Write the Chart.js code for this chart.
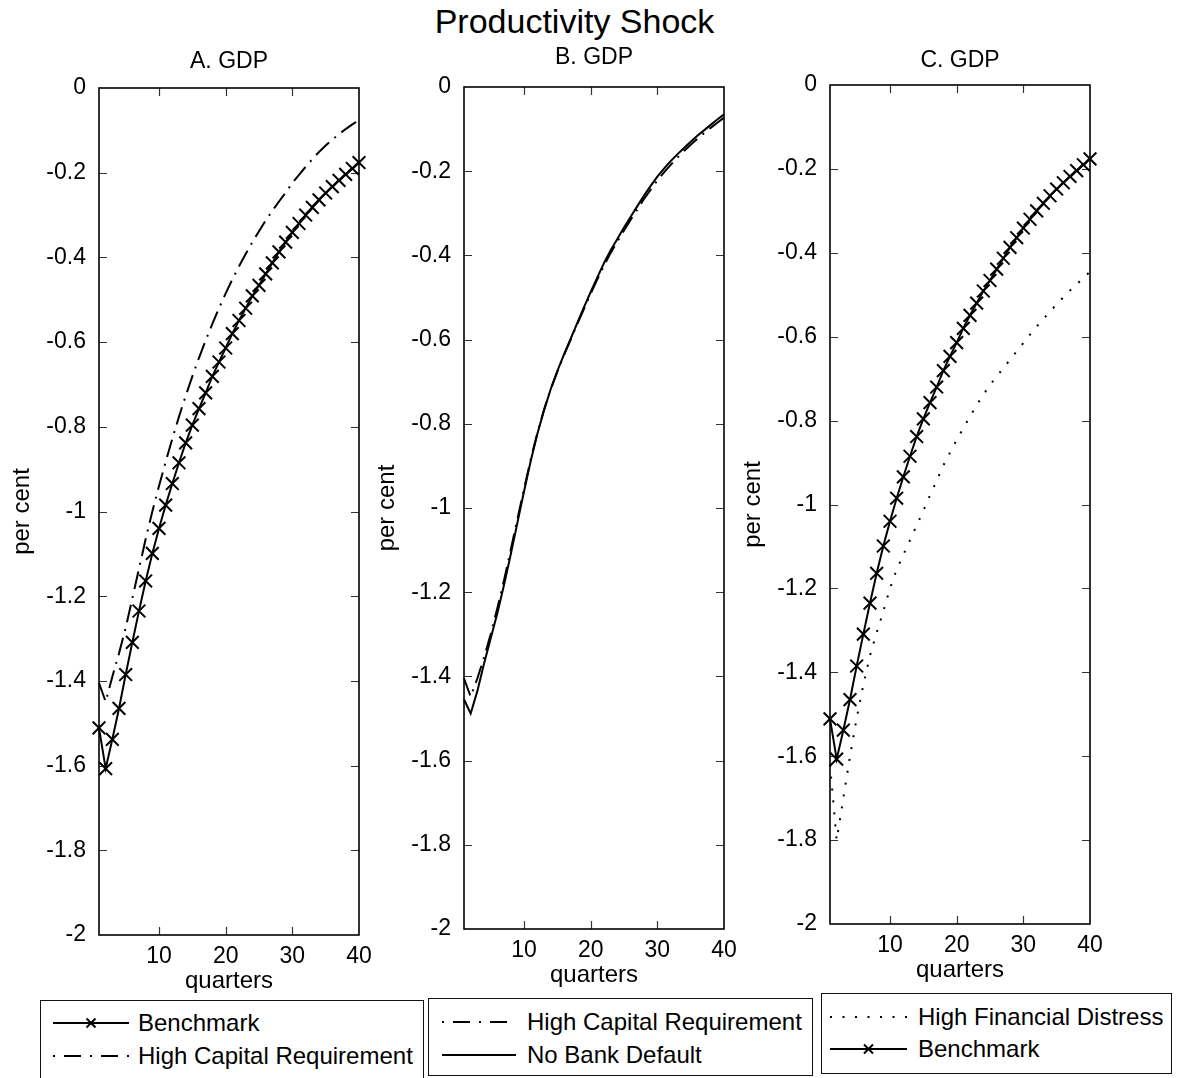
<!DOCTYPE html>
<html>
<head>
<meta charset="utf-8">
<script src="https://cdn.jsdelivr.net/npm/chart.js@4.4.1/dist/chart.umd.min.js"></script>
<style>
html,body{margin:0;padding:0;background:#fff;}
body{width:1186px;height:1078px;overflow:hidden;position:relative;font-family:"Liberation Sans",Arial,Helvetica,sans-serif;color:#000;}
canvas{position:absolute;}
#mainTitle{position:absolute;left:0;top:1px;width:1149px;text-align:center;font-size:34px;line-height:40px;white-space:nowrap;}
.legend{position:absolute;border:1.5px solid #111;box-sizing:border-box;background:transparent;}
.legend .txt{position:absolute;font-size:24px;line-height:30px;white-space:nowrap;}
.legend svg{position:absolute;overflow:visible;}
</style>
</head>
<body>
<div id="mainTitle">Productivity Shock</div>
<canvas id="cA"></canvas>
<canvas id="cB"></canvas>
<canvas id="cC"></canvas>
<div id="legends"></div>
<script>
// ---------------- data ----------------
const quarters = [1,2,3,4,5,6,7,8,9,10,11,12,13,14,15,16,17,18,19,20,21,22,23,24,25,26,27,28,29,30,31,32,33,34,35,36,37,38,39,40];

const xTicks = [10, 20, 30, 40];
const xTickLabels = ["10", "20", "30", "40"];
const yTicks = [0, -0.2, -0.4, -0.6, -0.8, -1, -1.2, -1.4, -1.6, -1.8, -2];
const yTickLabels = ["0", "-0.2", "-0.4", "-0.6", "-0.8", "-1", "-1.2", "-1.4", "-1.6", "-1.8", "-2"];

const panelTitles = ["A. GDP", "B. GDP", "C. GDP"];
const xAxisTitle = "quarters";
const yAxisTitle = "per cent";

const nameBenchmark = "Benchmark";
const nameHighCap = "High Capital Requirement";
const nameNoDefault = "No Bank Default";
const nameDistress = "High Financial Distress";

// Benchmark (panels A and C)
const benchmark = [-1.511,-1.607,-1.538,-1.465,-1.385,-1.309,-1.235,-1.164,-1.099,-1.040,
                   -0.985,-0.934,-0.885,-0.838,-0.796,-0.757,-0.720,-0.681,-0.647,-0.614,
                   -0.580,-0.549,-0.520,-0.491,-0.466,-0.439,-0.413,-0.387,-0.364,-0.341,
                   -0.320,-0.300,-0.282,-0.264,-0.248,-0.233,-0.218,-0.204,-0.190,-0.176];
// High capital requirement (panel A)
const highCapA = [-1.405,-1.449,-1.390,-1.335,-1.275,-1.205,-1.135,-1.065,-1.000,-0.940,
                  -0.883,-0.828,-0.776,-0.727,-0.681,-0.637,-0.596,-0.557,-0.520,-0.485,
                  -0.452,-0.421,-0.392,-0.364,-0.338,-0.313,-0.290,-0.268,-0.247,-0.224,
                  -0.205,-0.186,-0.168,-0.151,-0.136,-0.122,-0.109,-0.097,-0.086,-0.076];
// High capital requirement (panel B)
const highCapB = [-1.405,-1.448,-1.405,-1.355,-1.300,-1.238,-1.172,-1.100,-1.027,-0.955,
                  -0.885,-0.822,-0.767,-0.718,-0.676,-0.637,-0.600,-0.563,-0.527,-0.491,
                  -0.457,-0.424,-0.394,-0.367,-0.341,-0.315,-0.291,-0.266,-0.244,-0.222,
                  -0.203,-0.185,-0.168,-0.152,-0.137,-0.123,-0.110,-0.097,-0.085,-0.073];
// No bank default (panel B)
const noDefaultB = [-1.455,-1.488,-1.435,-1.370,-1.310,-1.250,-1.183,-1.111,-1.036,-0.961,
                    -0.889,-0.824,-0.768,-0.718,-0.675,-0.635,-0.598,-0.560,-0.523,-0.487,
                    -0.452,-0.418,-0.388,-0.361,-0.334,-0.308,-0.283,-0.258,-0.235,-0.213,
                    -0.194,-0.176,-0.160,-0.145,-0.130,-0.116,-0.103,-0.090,-0.077,-0.065];
// High financial distress (panel C)
const distressC = [-1.620,-1.800,-1.700,-1.600,-1.510,-1.430,-1.360,-1.305,-1.255,-1.200,
                   -1.155,-1.120,-1.085,-1.050,-1.015,-0.978,-0.943,-0.907,-0.876,-0.846,
                   -0.818,-0.790,-0.763,-0.738,-0.715,-0.695,-0.675,-0.655,-0.635,-0.615,
                   -0.595,-0.576,-0.558,-0.540,-0.523,-0.506,-0.490,-0.475,-0.460,-0.445];

// ---------------- styles ----------------
const FONT = '"Liberation Sans", Arial, Helvetica, sans-serif';
const styles = {
  bench:    {borderDash: [], pointStyle: 'crossRot', pointRadius: 9, legendMarker: true},
  highCap:  {borderDash: [18, 7, 2, 7], pointRadius: 0},
  solid:    {borderDash: [], pointRadius: 0},
  dotted:   {borderDash: [2, 10], pointRadius: 0}
};

function series(label, values, style) {
  return {
    label: label,
    data: quarters.map((q, i) => ({x: q, y: values[i]})),
    borderColor: '#000',
    backgroundColor: '#000',
    borderWidth: 2,
    borderDash: style.borderDash,
    pointStyle: style.pointStyle || 'circle',
    pointRadius: style.pointRadius,
    pointHoverRadius: style.pointRadius,
    pointBorderColor: '#000',
    pointBorderWidth: 2,
    tension: 0,
    fill: false,
    clip: false
  };
}

// ---------------- layout ----------------
const panels = [
  {canvas: 'cA', L: 99,  R: 359,  T: 88, B: 935, titleY: 61.7,
   datasets: [series(nameHighCap, highCapA, styles.highCap), series(nameBenchmark, benchmark, styles.bench)]},
  {canvas: 'cB', L: 464, R: 724,  T: 87, B: 929, titleY: 57.5,
   datasets: [series(nameHighCap, highCapB, styles.highCap), series(nameNoDefault, noDefaultB, styles.solid)]},
  {canvas: 'cC', L: 830, R: 1090, T: 85, B: 924, titleY: 60.3,
   datasets: [series(nameDistress, distressC, styles.dotted), series(nameBenchmark, benchmark, styles.bench)]}
];
const CANVAS_TOP = 30, YAXIS_W = 95, XAXIS_H = 65, PAD_RIGHT = 30;
const TITLE_SIZE = 23, TITLE_LH = TITLE_SIZE * 1.2;

const framePlugin = {
  id: 'frame',
  beforeDatasetsDraw(chart) {
    const {ctx, chartArea: a, scales: {x, y}} = chart;
    ctx.save();
    ctx.strokeStyle = '#333';
    ctx.lineWidth = 1.2;
    ctx.beginPath();
    const tl = 8;
    yTicks.forEach(v => {
      if (v === 0 || v === -2) return;
      const py = Math.round(y.getPixelForValue(v)) + 0.5;
      ctx.moveTo(a.left, py); ctx.lineTo(a.left + tl, py);
      ctx.moveTo(a.right, py); ctx.lineTo(a.right - tl, py);
    });
    xTicks.forEach(v => {
      if (v === 40) return;
      const px = Math.round(x.getPixelForValue(v)) + 0.5;
      ctx.moveTo(px, a.bottom); ctx.lineTo(px, a.bottom - tl);
      ctx.moveTo(px, a.top); ctx.lineTo(px, a.top + tl);
    });
    ctx.stroke();
    ctx.strokeStyle = '#000';
    ctx.lineWidth = 1.6;
    ctx.strokeRect(a.left, a.top, a.right - a.left, a.bottom - a.top);
    ctx.restore();
  }
};

panels.forEach((p, idx) => {
  const cv = document.getElementById(p.canvas);
  const left = p.L - YAXIS_W;
  const w = (p.R - p.L) + YAXIS_W + PAD_RIGHT;
  const h = p.B + XAXIS_H - CANVAS_TOP;
  cv.width = w; cv.height = h;
  cv.style.left = left + 'px';
  cv.style.top = CANVAS_TOP + 'px';
  cv.style.width = w + 'px';
  cv.style.height = h + 'px';
  const padTop = p.titleY - CANVAS_TOP - TITLE_LH / 2;
  const padBottom = p.T - CANVAS_TOP - padTop - TITLE_LH;
  new Chart(cv, {
    type: 'line',
    data: {datasets: p.datasets},
    options: {
      responsive: false,
      animation: false,
      devicePixelRatio: 1,
      events: [],
      layout: {padding: {left: 0, right: PAD_RIGHT, top: 0, bottom: 0}},
      plugins: {
        legend: {display: false},
        tooltip: {enabled: false},
        title: {
          display: true, text: panelTitles[idx], fullSize: false, color: '#000',
          font: {family: FONT, size: TITLE_SIZE, weight: 'normal'},
          padding: {top: padTop, bottom: padBottom}
        }
      },
      scales: {
        x: {
          type: 'linear', min: 1, max: 40,
          afterBuildTicks: s => { s.ticks = xTicks.map(v => ({value: v})); },
          afterFit: s => { s.height = XAXIS_H; },
          grid: {display: false, drawTicks: false}, border: {display: false},
          ticks: {
            color: '#000', padding: 8, maxRotation: 0, autoSkip: false,
            font: {family: FONT, size: 23},
            callback: v => xTickLabels[xTicks.indexOf(v)]
          },
          title: {display: true, text: xAxisTitle, color: '#000',
                  font: {family: FONT, size: 24}, padding: {top: 0, bottom: 4.6}}
        },
        y: {
          type: 'linear', min: -2, max: 0,
          afterBuildTicks: s => { s.ticks = yTicks.map(v => ({value: v})); },
          afterFit: s => { s.width = YAXIS_W; },
          grid: {display: false, drawTicks: false}, border: {display: false},
          ticks: {
            color: '#000', padding: 13, autoSkip: false,
            font: {family: FONT, size: 23},
            callback: v => yTickLabels[yTicks.findIndex(t => Math.abs(t - v) < 1e-9)]
          },
          title: {display: true, text: yAxisTitle, color: '#000',
                  font: {family: FONT, size: 24}, padding: {top: 4.1, bottom: 0}}
        }
      }
    },
    plugins: [framePlugin]
  });
});

// ---------------- legends (HTML boxes) ----------------
function sampleSvg(style, width) {
  const dash = style.borderDash.length ? ` stroke-dasharray="${style.borderDash.join(' ')}"` : '';
  let s = `<svg width="${width}" height="16" viewBox="0 0 ${width} 16">` +
          `<line x1="0" y1="8" x2="${width}" y2="8" stroke="#000" stroke-width="2"${dash}/>`;
  if (style.legendMarker) {
    const c = width / 2, r = 4.5;
    s += `<line x1="${c - r}" y1="${8 - r}" x2="${c + r}" y2="${8 + r}" stroke="#000" stroke-width="2"/>` +
         `<line x1="${c - r}" y1="${8 + r}" x2="${c + r}" y2="${8 - r}" stroke="#000" stroke-width="2"/>`;
  }
  return s + '</svg>';
}
const legendBoxes = [
  {left: 40,  top: 1000, width: 384, height: 92, sx: 12, sw: 76, tx: 97,
   rows: [{y: 23, label: nameBenchmark, style: styles.bench}, {y: 56, label: nameHighCap, style: {borderDash: [2, 9, 17, 9]}}]},
  {left: 428, top: 998,  width: 385, height: 78, sx: 13, sw: 74, tx: 98,
   rows: [{y: 24, label: nameHighCap, style: {borderDash: [2, 9, 17, 9]}}, {y: 57, label: nameNoDefault, style: styles.solid}]},
  {left: 821, top: 993,  width: 351, height: 81, sx: 8,  sw: 77, tx: 96,
   rows: [{y: 24, label: nameDistress, style: {borderDash: [2, 10.5]}}, {y: 56, label: nameBenchmark, style: styles.bench}]}
];
const lg = document.getElementById('legends');
legendBoxes.forEach(b => {
  const d = document.createElement('div');
  d.className = 'legend';
  d.style.cssText = `left:${b.left}px;top:${b.top}px;width:${b.width}px;height:${b.height}px;`;
  let html = '';
  b.rows.forEach(r => {
    html += `<div style="position:absolute;left:${b.sx}px;top:${r.y - 8 - 1.5}px;">${sampleSvg(r.style, b.sw)}</div>`;
    html += `<span class="txt" style="left:${b.tx}px;top:${r.y - 15 - 1.5}px;">${r.label}</span>`;
  });
  d.innerHTML = html;
  lg.appendChild(d);
});
</script>
</body>
</html>
